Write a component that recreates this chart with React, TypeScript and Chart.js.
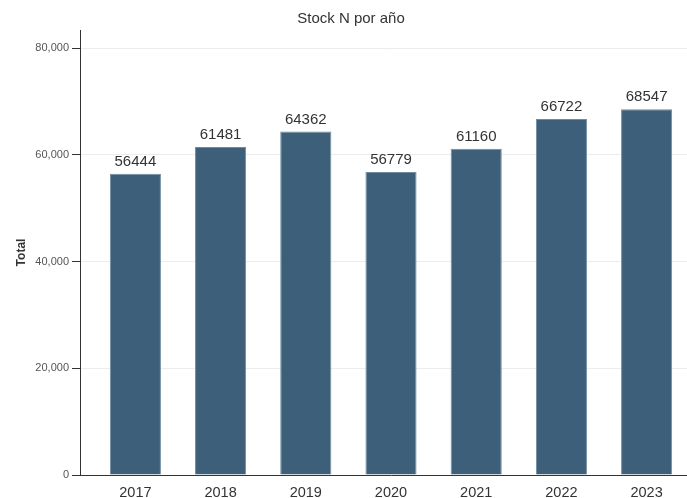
import React, { useEffect, useRef } from "react";
import { Chart, registerables } from "chart.js";

Chart.register(...registerables);

const years = [2017, 2018, 2019, 2020, 2021, 2022, 2023];
const totals = [56444, 61481, 64362, 56779, 61160, 66722, 68547];
const yTicks = [0, 20000, 40000, 60000, 80000];
const titleText = "Stock N por año";
const yTitle = "Total";

const FONT = "'Liberation Sans', Arial, Helvetica, sans-serif";

const labelPlugin = {
  id: "barLabels",
  afterDatasetsDraw(chart: any) {
    const ctx = chart.ctx;
    const meta = chart.getDatasetMeta(0);
    ctx.save();
    ctx.font = `15px ${FONT}`;
    ctx.fillStyle = "#333333";
    ctx.textAlign = "center";
    ctx.textBaseline = "alphabetic";
    meta.data.forEach((el: any, i: number) => {
      ctx.fillText(String(totals[i]), el.x, el.y - 8);
    });
    ctx.restore();
  },
};

export default function App() {
  const ref = useRef<HTMLCanvasElement | null>(null);

  useEffect(() => {
    if (!ref.current) return;
    const chart = new Chart(ref.current, {
      type: "bar",
      data: {
        datasets: [
          {
            data: years.map((y, i) => ({ x: y, y: totals[i] })),
            backgroundColor: "#3d5f79",
            borderColor: "#6f8ba1",
            borderWidth: 1,
            barPercentage: 0.6,
            categoryPercentage: 1,
          },
        ],
      },
      options: {
        animation: false,
        responsive: true,
        maintainAspectRatio: false,
        layout: { padding: { left: 0, right: 80, top: 0, bottom: 0 } },
        plugins: {
          legend: { display: false },
          tooltip: { enabled: false },
          title: {
            display: true,
            text: titleText,
            color: "#333333",
            font: { family: FONT, size: 15, weight: "normal" },
            padding: { top: 10, bottom: 2 },
          },
        },
        scales: {
          x: {
            type: "linear",
            offset: false,
            min: 2016.35,
            max: 2023.65,
            afterBuildTicks: (scale: any) => {
              scale.ticks = years.map((v) => ({ value: v }));
            },
            afterFit: (scale: any) => {
              scale.height = 23;
            },
            grid: { display: false, drawTicks: false, offset: false },
            border: { display: true, color: "#333333", width: 1 },
            ticks: {
              color: "#333333",
              padding: 9,
              font: { family: FONT, size: 14.5 },
              callback: (v: any) => String(v),
            },
          },
          y: {
            min: 0,
            max: 83400,
            afterBuildTicks: (scale: any) => {
              scale.ticks = yTicks.map((v) => ({ value: v }));
            },
            afterFit: (scale: any) => {
              scale.width = 80;
            },
            grid: {
              color: "#ececec",
              tickColor: "#333333",
              tickLength: 8,
              drawTicks: true,
            },
            border: { display: true, color: "#333333", width: 1 },
            ticks: {
              color: "#555555",
              padding: 3,
              font: { family: FONT, size: 11 },
              callback: (v: any) => Number(v).toLocaleString("en-US"),
            },
            title: {
              display: true,
              text: yTitle,
              color: "#333333",
              font: { family: FONT, size: 12, weight: "bold" },
              padding: { top: 14, bottom: 0 },
            },
          },
        },
      },
      plugins: [labelPlugin],
    } as any);
    return () => chart.destroy();
  }, []);

  return (
    <div
      style={{
        position: "absolute",
        left: 0,
        top: 0,
        width: 687,
        height: 498,
        overflow: "hidden",
        background: "#ffffff",
      }}
    >
      <div style={{ position: "relative", width: 782, height: 498 }}>
        <canvas ref={ref} />
      </div>
    </div>
  );
}
